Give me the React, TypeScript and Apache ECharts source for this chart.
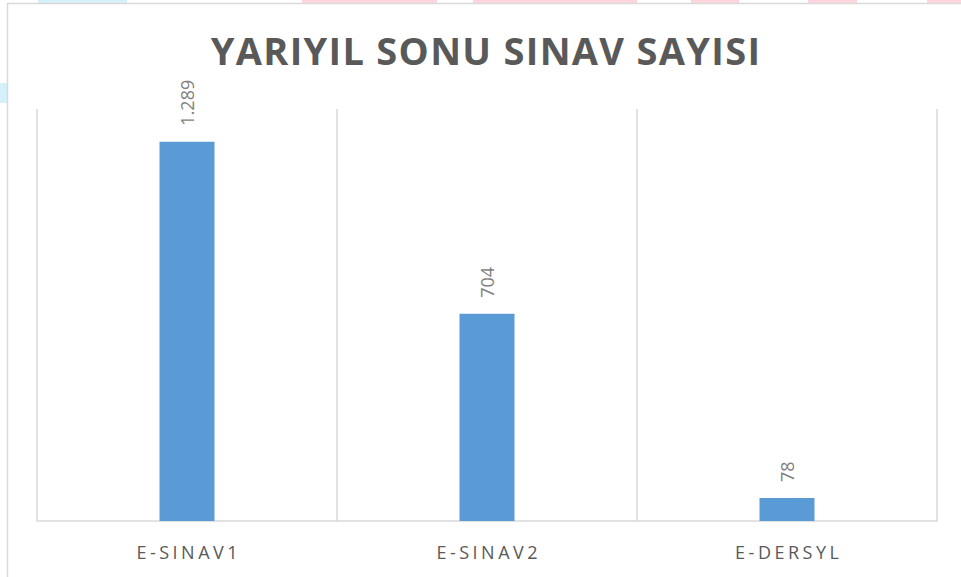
import React, { useEffect, useRef } from "react";
import * as echarts from "echarts";

const categories = ["E-SINAV1", "E-SINAV2", "E-DERSYL"];
const values = [1289, 704, 78];
const titleText = "YARIYIL SONU SINAV SAYISI";
const axisMax = 1400;

const fmt = (v: number) => String(v).replace(/\B(?=(\d{3})+(?!\d))/g, ".");

export default function App() {
  const ref = useRef<HTMLDivElement>(null);
  useEffect(() => {
    document.body.style.margin = "0";
    const chart = echarts.init(ref.current!, null, { renderer: "svg" });
    const spacing = () => {
      const root = ref.current;
      if (!root) return;
      root.querySelectorAll("text").forEach((t) => {
        const s = t.textContent || "";
        if (categories.includes(s)) {
          t.setAttribute("letter-spacing", "3.5");
          t.setAttribute("dx", "1.75");
        } else if (s === titleText) {
          t.setAttribute("letter-spacing", "1.3");
        }
      });
    };
    chart.on("finished", spacing);
    chart.setOption({
      animation: false,
      backgroundColor: "#ffffff",
      title: {
        text: titleText,
        left: 481,
        top: 26,
        textAlign: "center",
        textStyle: {
          fontFamily: "Open Sans",
          fontWeight: "bold",
          fontSize: 38,
          color: "#595959",
        },
      },
      graphic: [
        { type: "rect", shape: { x: 38, y: 0, width: 89, height: 3 }, style: { fill: "#d6f0fb" }, silent: true },
        { type: "rect", shape: { x: 0, y: 83, width: 7, height: 20 }, style: { fill: "#d6f0fb" }, silent: true },
        { type: "rect", shape: { x: 302, y: 0, width: 135, height: 3 }, style: { fill: "#fdd5dd" }, silent: true },
        { type: "rect", shape: { x: 473, y: 0, width: 164, height: 3 }, style: { fill: "#fdd5dd" }, silent: true },
        { type: "rect", shape: { x: 691, y: 0, width: 48, height: 3 }, style: { fill: "#fdd5dd" }, silent: true },
        { type: "rect", shape: { x: 808, y: 0, width: 49, height: 3 }, style: { fill: "#fdd5dd" }, silent: true },
        { type: "rect", shape: { x: 927, y: 0, width: 34, height: 3 }, style: { fill: "#fdd5dd" }, silent: true },
        {
          type: "rect",
          shape: { x: 7.5, y: 3.5, width: 1200, height: 1200 },
          style: { fill: "none", stroke: "#d9d9d9", lineWidth: 1.5 },
          silent: true,
        },
      ],
      grid: { left: 37, right: 24, top: 109, bottom: 56 },
      xAxis: {
        type: "category",
        data: categories,
        boundaryGap: true,
        axisLine: { show: true, lineStyle: { color: "#d9d9d9", width: 1.5 } },
        axisTick: { show: false },
        splitLine: { show: true, interval: 0, lineStyle: { color: "#d9d9d9", width: 1.5 } },
        axisLabel: {
          color: "#595959",
          fontFamily: "Open Sans",
          fontSize: 18,
          margin: 22,
        },
      },
      yAxis: {
        type: "value",
        min: 0,
        max: axisMax,
        show: false,
        splitLine: { show: false },
      },
      series: [
        {
          type: "bar",
          data: values,
          barWidth: 55,
          itemStyle: { color: "#5b9bd5" },
          label: {
            show: true,
            position: "top",
            distance: 16,
            rotate: 90,
            align: "left",
            verticalAlign: "middle",
            fontFamily: "Open Sans",
            fontSize: 18,
            color: "#7f7f7f",
            formatter: (p: any) => fmt(p.value),
          },
        },
      ],
    });
    spacing();
    return () => chart.dispose();
  }, []);
  return <div ref={ref} style={{ width: 961, height: 577 }} />;
}
